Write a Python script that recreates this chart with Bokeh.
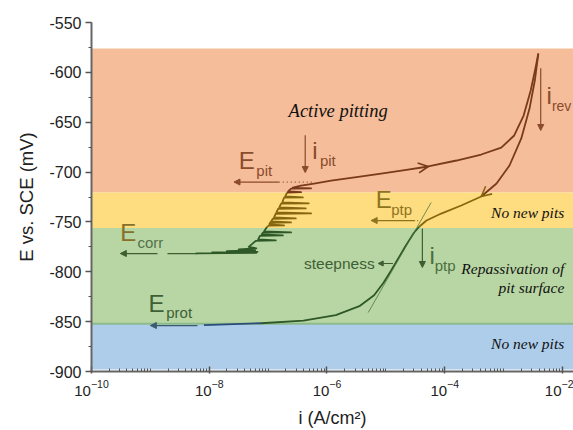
import numpy as np
from bokeh.plotting import figure
from bokeh.models import (BoxAnnotation, Span, Label, Arrow, NormalHead, OpenHead,
                          FixedTicker, SingleIntervalTicker, Range1d, PrintfTickFormatter)
from bokeh.embed import file_html
from bokeh.resources import INLINE

# ---- potential bands (mV vs SCE) ----
band_top = [-576, -720.5, -756, -852]
band_bottom = [-720.5, -756, -852, -898]
band_fill = ["#F5BD99", "#FEDC80", "#B8D6A4", "#AECDEA"]
band_ink = ["#7A3A1C", "#86670F", "#2E5827", "#2C4B78"]
band_text = ["#8A4B2E", "#8F7420", "#4A6E3E", "#3E5A80"]

# ---- forward scan (log10 i [A/cm2], E [mV]) ----
fwd_logi = [-8.23, -7.20, -7.95, -7.18, -7.70, -7.22, -7.50, -7.20, -7.33, -7.21,
            -6.87, -7.17, -7.14, -6.75, -7.11, -7.09, -6.61, -7.07, -7.02, -6.99,
            -6.73, -6.98, -6.97, -6.61, -6.95, -6.92, -6.53, -6.90, -6.87, -6.27,
            -6.86, -6.83, -6.36, -6.81, -6.78, -6.31, -6.76, -6.73, -6.41, -6.71,
            -6.68, -6.44, -6.66, -6.61, -6.27, -6.58, -6.44, -6.22, -5.93, -5.50,
            -5.08, -4.68, -4.28, -3.80, -3.38, -3.04, -2.82, -2.66, -2.54, -2.46,
            -2.41]
fwd_E = [-781.5, -781.0, -780.5, -780.0, -779.3, -778.6, -777.5, -776.5, -775.0, -769.0,
         -768.5, -767.5, -764.0, -763.5, -762.5, -760.8, -760.5, -759.5, -755.0, -753.8,
         -753.5, -752.5, -750.8, -750.5, -749.5, -746.8, -746.5, -745.5, -741.8, -741.5,
         -740.5, -736.8, -736.5, -735.5, -731.7, -731.4, -730.5, -725.7, -725.4, -724.5,
         -720.7, -720.2, -719.5, -716.6, -716.3, -715.5, -713.5, -711.5, -708.5, -705.0,
         -701.5, -698.0, -694.4, -688.4, -682.4, -675.4, -663.3, -643.3, -618.2, -596.1,
         -581.1]

# ---- reverse scan ----
rev_logi = [-2.41, -2.47, -2.56, -2.70, -2.90, -3.12, -3.38, -3.72, -4.06, -4.31,
            -4.43, -4.52, -4.66, -4.79, -4.91, -5.04, -5.20, -5.45, -5.85, -6.40,
            -7.12, -8.09]
rev_E = [-581.1, -608.2, -636.3, -666.3, -693.4, -711.5, -724.5, -733.5, -741.6, -748.6,
         -754.6, -760.6, -773.7, -786.7, -798.7, -811.0, -823.5, -834.5, -843.5, -848.9,
         -851.6, -853.5]

# ---- tangent ("steepness") ----
tan_logi = [-4.23, -5.30]
tan_E = [-730.5, -840.9]

x_ticks = [1e-10, 1e-8, 1e-6, 1e-4, 1e-2]

p = figure(width=573, height=430, x_axis_type="log", output_backend="svg",
           toolbar_location=None, x_range=Range1d(1e-10, 10 ** -1.813),
           y_range=Range1d(-900, -550),
           min_border_left=91, min_border_right=0, min_border_top=22, min_border_bottom=59)
p.outline_line_color = None
p.grid.visible = False
p.background_fill_color = "white"

for t, b, c in zip(band_top, band_bottom, band_fill):
    p.add_layout(BoxAnnotation(top=t, bottom=b, fill_color=c, fill_alpha=1.0,
                               line_color=None, level="underlay"))
p.add_layout(Span(location=band_top[3], dimension="width", line_color="#8DBA8C",
                  line_width=2, level="underlay"))


def band_of(e):
    for k in range(4):
        if e >= band_bottom[k]:
            return k
    return 3


def draw_curve(lx, ey, width):
    xs, ys, cs = [], [], []
    cur_x, cur_y, cur_b = [10 ** lx[0]], [ey[0]], None
    for j in range(len(lx) - 1):
        b = band_of((ey[j] + ey[j + 1]) / 2)
        if cur_b is None:
            cur_b = b
        if b != cur_b:
            xs.append(cur_x); ys.append(cur_y); cs.append(band_ink[cur_b])
            cur_x, cur_y, cur_b = [10 ** lx[j]], [ey[j]], b
        cur_x.append(10 ** lx[j + 1]); cur_y.append(ey[j + 1])
    xs.append(cur_x); ys.append(cur_y); cs.append(band_ink[cur_b])
    p.multi_line(xs=xs, ys=ys, line_color=cs, line_width=width, line_join="round")


draw_curve(fwd_logi, fwd_E, 1.8)
draw_curve(rev_logi, rev_E, 1.8)
p.line([10 ** v for v in tan_logi], tan_E, line_color="#4F7A40", line_width=1, line_alpha=0.8)


def arrow(x0, y0, x1, y1, color, size=6, lw=1.2):
    p.add_layout(Arrow(x_start=10 ** x0, y_start=y0, x_end=10 ** x1, y_end=y1,
                       line_color=color, line_width=lw,
                       end=NormalHead(size=size, fill_color=color, line_color=color)))


def open_arrow(x0, y0, x1, y1, color):
    p.add_layout(Arrow(x_start=10 ** x0, y_start=y0, x_end=10 ** x1, y_end=y1,
                       line_color=color, line_width=1.5, line_alpha=0.0,
                       end=OpenHead(size=10, line_color=color, line_width=1.6)))


def seg(x0, x1, y, color, dash):
    p.line([10 ** x0, 10 ** x1], [y, y], line_color=color, line_width=1.2, line_dash=dash)


brown, olive, green, navy = band_text
arrow(-6.82, -710, -7.58, -710, brown)
seg(-6.82, -6.22, -710, brown, "1 3")
arrow(-6.37, -663, -6.37, -700.5, brown)
arrow(-8.88, -781.7, -9.51, -781.7, "#3D5E30")
seg(-8.71, -8.20, -781.7, "#3D5E30", "solid")
arrow(-8.20, -853.9, -9.0, -853.9, "#3E5A70")
arrow(-4.52, -748.6, -5.25, -748.6, olive)
seg(-4.52, -4.43, -748.6, olive, "1 2")
arrow(-4.38, -756.6, -4.38, -795.7, "#3D5E30")
arrow(-2.37, -596, -2.37, -658.3, brown)
arrow(-4.88, -791.7, -5.13, -791.7, "#3D5E30", size=5)
open_arrow(-4.45, -695.9, -4.28, -694.4, band_ink[0])
open_arrow(-3.12, -711.5, -3.38, -724.5, band_ink[1])


def lab(lx, y, text, size, color, font="Liberation Sans", style="normal",
        align="left", baseline="alphabetic"):
    p.add_layout(Label(x=10 ** lx, y=y, text=text, text_font=font,
                       text_font_size=f"{size}px", text_color=color,
                       text_font_style=style, text_align=align, text_baseline=baseline))


big, small = 24, 15
lab(-7.50, -688.4, "E", big, brown); lab(-7.20, -698.0, "pit", small, brown)
lab(-6.25, -678.4, "i", big, brown); lab(-6.12, -688.0, "pit", small, brown)
lab(-9.51, -760.6, "E", big, "#86702A"); lab(-9.22, -770.5, "corr", small, "#52704A")
lab(-9.03, -831.8, "E", big, "#3E6036"); lab(-8.73, -840.9, "prot", small, "#3E6036")
lab(-5.17, -727.5, "E", big, olive); lab(-4.91, -737.6, "ptp", small, olive)
lab(-4.26, -783.7, "i", big, "#4A6E3E"); lab(-4.17, -793.7, "ptp", small, "#4A6E3E")
lab(-2.27, -623.2, "i", big, brown); lab(-2.18, -633.3, "rev", 14, brown)
lab(-6.39, -791.7, "steepness", 15.5, "#3E6036", baseline="middle")

serif = "Times New Roman"
lab(-5.81, -638.3, "Active pitting", 18.5, "#111111", serif, "italic", "center", "middle")
lab(-1.97, -740.6, "No new pits", 15.5, "#111111", serif, "italic", "right", "middle")
lab(-1.97, -796.7, "Repassivation of", 15.5, "#111111", serif, "italic", "right", "middle")
lab(-1.97, -815.8, "pit surface", 15.5, "#111111", serif, "italic", "right", "middle")
lab(-1.97, -872.0, "No new pits", 15.5, "#111111", serif, "italic", "right", "middle")

# axes
minor = []
for d in range(-10, -1):
    for m in range(1, 10):
        v = m * 10.0 ** d
        if v not in x_ticks:
            minor.append(v)
p.xaxis.ticker = FixedTicker(ticks=x_ticks, minor_ticks=minor)
p.yaxis.ticker = SingleIntervalTicker(interval=50, num_minor_ticks=2)
p.yaxis.formatter = PrintfTickFormatter(format="%d")

for ax in (p.xaxis[0], p.yaxis[0]):
    ax.axis_line_color = "#666666"
    ax.axis_line_width = 2
    ax.major_tick_line_color = "#555555"
    ax.minor_tick_line_color = "#555555"
    ax.major_tick_line_width = 1.5
    ax.major_label_text_font = "Liberation Sans"
    ax.major_label_text_color = "#222222"
    ax.axis_label_text_font = "Liberation Sans"
    ax.axis_label_text_font_style = "normal"
    ax.axis_label_text_color = "#222222"

p.yaxis.major_label_text_font_size = "16px"
p.yaxis.axis_label_text_font_size = "18.5px"
p.xaxis.major_label_text_font_size = "15px"
p.xaxis.axis_label_text_font_size = "18px"

p.xaxis.major_tick_in = 5
p.xaxis.major_tick_out = 2
p.xaxis.minor_tick_in = 3
p.xaxis.minor_tick_out = 0
p.xaxis.major_label_standoff = 6
p.xaxis.axis_label = "i (A/cm²)"
p.xaxis.axis_label_standoff = 9

p.yaxis.major_tick_in = 0
p.yaxis.major_tick_out = 6
p.yaxis.minor_tick_in = 0
p.yaxis.minor_tick_out = 3
p.yaxis.major_label_standoff = 4
p.yaxis.axis_label = "E vs. SCE (mV)"
p.yaxis.axis_label_standoff = 9

open("out.html", "w").write(file_html(p, INLINE))
